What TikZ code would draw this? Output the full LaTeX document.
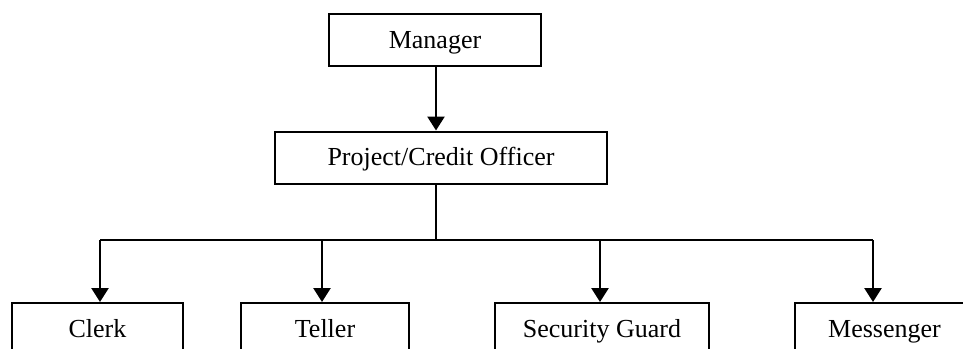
\documentclass[tikz,border=0pt]{standalone}
\usepackage{fontspec}
\setmainfont{Liberation Serif}
\usetikzlibrary{arrows.meta}
\begin{document}
\begin{tikzpicture}[x=1pt,y=-1pt,
  post/.style={draw=black, line width=2pt, fill=white, inner sep=0pt,
    minimum height=52pt, text height=17pt, text depth=1pt,
    font=\fontsize{26}{30}\selectfont},
  link/.style={line width=2.6pt, draw=black},
  arr/.style={link, -{Triangle[width=17pt,length=14pt]}}]
\useasboundingbox (0,0) rectangle (963,348);
\clip (0,0) rectangle (963,348);

% top of the chart
\node[post, minimum width=212pt] (man) at (435,40) {Manager};
\node[post, minimum width=332pt] (pco) at (441,157.5) {Project/Credit Officer};

% staff row (boxes run past the lower edge)
\node[post, minimum width=171pt] (clerk) at (97.5,329) {Clerk};
\node[post, minimum width=168pt] (teller) at (325,329) {Teller};
\node[post, minimum width=214pt] (guard) at (602,329) {Security Guard};
\node[post, minimum width=179pt] (mess) at (884.5,329) {Messenger};

% connectors
\coordinate (mdrop) at (436,66);
\coordinate (pdrop) at (436,183);
\coordinate (bus) at (436,240);
\coordinate (busL) at (100,240);
\coordinate (busT) at (322,240);
\coordinate (busG) at (600,240);
\coordinate (busR) at (873,240);
\draw[arr] (mdrop) -- (mdrop |- pco.north);
\draw[link] (pdrop) -- (bus);
\draw[link] (busL) -- (busR);
\draw[arr] (busL) -- (busL |- clerk.north);
\draw[arr] (busT) -- (busT |- teller.north);
\draw[arr] (busG) -- (busG |- guard.north);
\draw[arr] (busR) -- (busR |- mess.north);
\end{tikzpicture}
\end{document}
